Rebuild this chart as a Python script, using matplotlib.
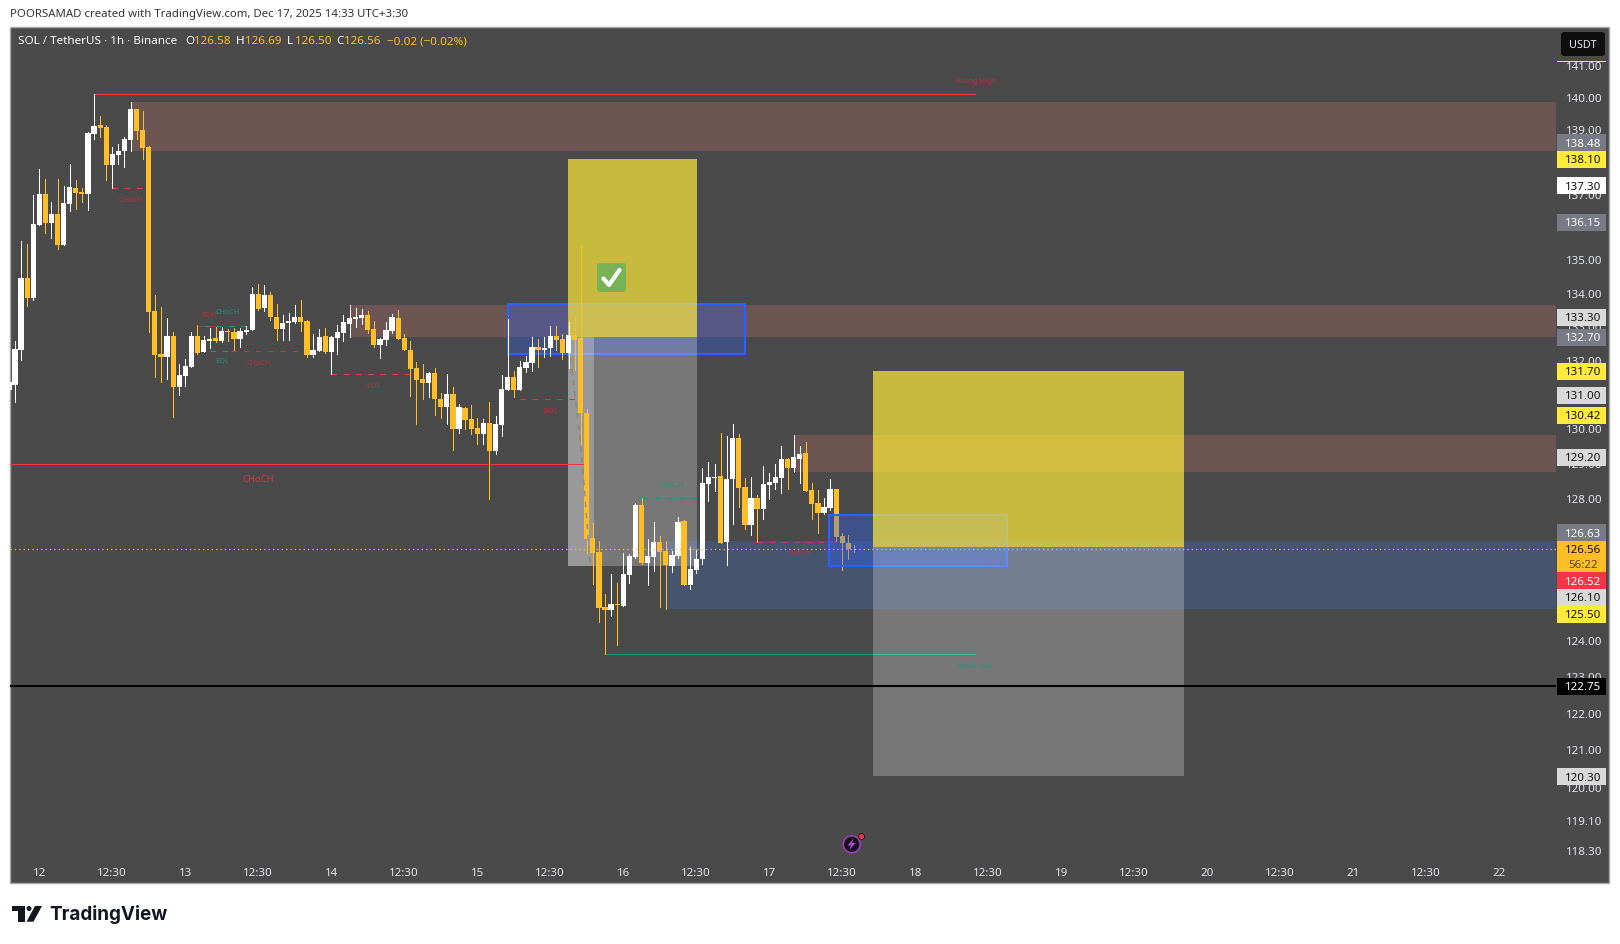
import matplotlib
matplotlib.use('Agg')
import numpy as np
import matplotlib.pyplot as plt
from matplotlib.patches import Rectangle, Polygon, Circle, FancyBboxPatch
from matplotlib.lines import Line2D
from matplotlib.transforms import Affine2D
from matplotlib.ticker import NullLocator

plt.rcParams['font.family'] = ['Noto Sans', 'DejaVu Sans']

# hourly candles, first one is 5 bars before the "12" label
first_bar = -5
opens = [131.16,131.30,132.33,134.47,133.87,136.08,137.02,136.14,136.41,135.47,
         136.72,137.20,137.08,137.02,138.87,139.15,139.08,137.91,138.21,138.34,
         138.68,139.65,138.99,138.46,133.49,132.22,132.13,132.75,131.25,131.57,
         131.83,132.75,132.27,132.60,132.69,132.60,132.89,132.86,132.66,132.86,
         132.92,133.99,133.57,133.96,133.30,132.95,133.12,133.15,133.31,133.19,
         132.19,132.30,132.75,132.27,132.69,132.83,133.10,133.25,133.28,133.36,
         132.95,132.48,132.63,132.89,133.28,132.69,132.33,131.80,131.48,131.36,
         131.66,130.89,130.66,131.04,130.01,130.63,130.30,130.04,129.87,130.19,
         129.38,130.13,131.16,131.54,131.16,131.80,131.95,132.42,132.33,132.39,
         132.75,132.66,132.25,132.77,132.69,130.48,126.89,126.49,124.94,124.86,
         125.03,124.97,125.84,126.35,127.82,126.18,126.35,126.77,126.52,126.09,
         126.37,127.37,125.56,125.98,126.29,128.43,128.60,128.66,126.77,128.57,
         129.75,128.34,127.26,128.02,127.71,128.40,128.46,128.60,129.14,128.89,
         129.14,129.32,128.25,127.88,127.60,127.74,128.28,126.94,126.75,126.58]
highs = [131.37,132.60,135.59,135.50,136.99,137.79,137.48,136.78,137.48,137.26,
         137.94,137.45,137.20,138.93,140.11,139.43,139.15,138.46,138.56,138.77,
         139.86,139.65,139.58,138.49,133.96,133.60,133.27,132.86,131.92,132.07,
         132.86,133.07,132.75,132.98,133.01,133.01,132.95,132.98,132.98,133.04,
         134.20,134.29,134.26,134.05,133.69,133.36,133.42,133.66,133.81,133.22,
         132.80,132.95,132.98,132.75,133.07,133.36,133.66,133.57,133.54,133.48,
         133.19,132.69,133.16,133.39,133.51,132.80,132.60,131.98,131.92,131.69,
         131.80,131.07,131.63,131.25,130.75,130.66,130.72,130.33,130.30,130.80,
         130.39,131.60,133.25,131.72,132.01,132.16,132.72,132.66,132.72,133.04,
         133.04,132.80,133.16,133.31,135.44,130.60,127.31,126.80,125.31,125.87,
         125.62,126.46,126.43,127.88,128.02,126.86,127.34,126.94,126.80,126.52,
         127.48,127.40,126.63,126.55,128.89,129.06,129.00,129.89,129.81,130.16,
         129.87,128.60,128.63,128.11,128.94,128.74,129.00,129.52,129.17,129.84,
         129.52,129.63,128.46,128.25,128.02,128.57,128.28,127.03,126.97,126.69]
lows = [131.16,130.81,132.02,133.64,133.81,136.08,135.83,135.68,135.35,135.47,
        136.50,136.56,136.78,136.53,138.71,138.77,137.45,137.19,137.94,137.85,
        138.34,138.71,138.09,132.86,131.54,131.39,131.48,130.36,131.01,131.27,
        131.83,132.22,132.27,132.39,132.57,132.57,132.60,132.33,132.42,132.80,
        132.92,133.51,133.48,133.21,132.63,132.63,132.63,133.12,132.89,132.13,
        132.13,132.30,132.25,131.62,132.22,132.60,132.72,133.01,133.10,132.83,
        132.42,132.10,132.48,132.83,132.66,132.33,130.98,130.16,130.89,130.95,
        130.42,130.33,130.16,129.40,129.89,130.01,129.87,129.58,129.58,127.99,
        129.29,129.81,131.16,130.95,131.16,131.69,131.72,131.83,132.13,132.16,
        132.33,132.07,131.80,131.75,129.57,126.46,125.59,124.53,123.64,124.69,
        123.89,124.97,125.62,126.32,126.15,125.56,125.95,124.94,124.89,125.93,
        126.32,125.56,125.45,125.90,126.15,127.94,128.22,126.75,126.12,127.28,
        127.77,127.14,126.97,126.77,127.43,128.00,128.28,128.16,128.28,128.77,
        128.46,128.22,127.43,127.03,127.57,127.68,126.80,125.98,126.29,126.50]
closes = [131.37,132.35,134.47,133.87,136.11,137.02,136.14,136.41,135.47,136.75,
          137.23,137.05,137.02,138.90,139.11,139.05,137.91,138.25,138.34,138.71,
          139.65,138.96,138.43,133.46,132.19,132.13,132.75,131.25,131.60,131.86,
          132.75,132.23,132.63,132.66,132.60,132.89,132.86,132.66,132.89,132.92,
          133.99,133.54,133.96,133.30,132.95,133.12,133.18,133.30,133.16,132.19,
          132.33,132.72,132.27,132.72,132.86,133.16,133.28,133.31,133.36,132.92,
          132.48,132.66,132.92,133.31,132.66,132.33,131.77,131.45,131.36,131.66,
          130.89,130.66,131.04,130.01,130.66,130.27,130.01,129.87,130.19,129.38,
          130.16,131.19,131.54,131.16,131.83,131.98,132.42,132.33,132.39,132.75,
          132.63,132.25,132.77,132.63,130.48,126.86,126.46,124.92,124.86,125.03,
          125.00,125.87,126.37,127.82,126.18,126.37,126.77,126.49,126.12,126.41,
          127.34,125.56,126.01,126.29,128.46,128.63,128.63,126.75,128.57,129.75,
          128.31,127.26,128.02,127.71,128.43,128.48,128.63,129.14,128.89,129.20,
          129.29,128.22,127.85,127.60,127.77,128.28,126.92,126.75,126.58,126.56]

price_ticks = [141,140,139,137,136,135,134,133,132,131,130,129,128,
               124,123,122,121,120,119.1,118.3]
day_ticks = np.arange(0, 241, 12)
day_names = ['12','12:30','13','12:30','14','12:30','15','12:30','16','12:30','17','12:30',
             '18','12:30','19','12:30','20','12:30','21','12:30','22']

# supply / demand zones: start bar, top, bottom
red_start = [15, 51, 124]
red_top = [139.87, 133.67, 129.84]
red_bot = [138.35, 132.70, 128.77]
blue_start, blue_top, blue_bot = 103, 126.80, 124.89
last_price = 126.56
level_black = 122.75

W, H = 1620, 944
BG = '#4a4a4a'
ORANGE = '#fdbe28'
RED = '#f23645'
PINK = '#b8323e'
TEAL = '#1f9480'
BLUE = '#2962ff'
GREY_TAG = '#787b86'
LIGHT_TAG = '#d9d9d9'
YEL_TAG = '#ffeb3b'

pix = Affine2D().scale(1, -1).translate(0, H)

fig = plt.figure(figsize=(W/100, H/100), dpi=100, facecolor='white')
fig.add_artist(Rectangle((10, 27), 1599, 856, transform=pix, fc=BG, ec='#a8a8a8', lw=1, zorder=-1))

ax = fig.add_axes([10/W, 1-883/H, 1546/W, 856/H])
ax.set_facecolor('none')
for s in ax.spines.values():
    s.set_visible(False)
ax.set_yscale('log')
ax.set_ylim(117.47, 142.23)
ax.set_xlim((10-39.3)/6.083, (1556-39.3)/6.083)
x_end = ax.get_xlim()[1]

ax.yaxis.tick_right()
ax.yaxis.set_minor_locator(NullLocator())
ax.set_yticks(price_ticks)
ax.set_yticks([], minor=True)
ax.set_yticklabels(['%.2f' % p for p in price_ticks])
ax.tick_params(axis='y', length=0, pad=7, labelsize=8.3, labelcolor='#e4e6ec')
ax.set_xticks(day_ticks)
ax.set_xticklabels(day_names)
ax.tick_params(axis='x', length=0, pad=-11, labelsize=8.3, labelcolor='#e4e6ec')

# zones
for s0, t, b in zip(red_start, red_top, red_bot):
    ax.fill_between([s0, x_end], b, t, color='#6d5554', lw=0, zorder=1)
ax.fill_between([blue_start, x_end], blue_bot, blue_top, color='#46546e', lw=0, zorder=1)

# first blue box, under the long box
ax.add_patch(Rectangle((77, 132.2), 39, 133.7-132.2, fc=BLUE, alpha=0.3, lw=0, zorder=1.5))
ax.add_patch(Rectangle((77, 132.2), 39, 133.7-132.2, fc='none', ec=BLUE, lw=1.5, zorder=1.6))

# long position left
ax.add_patch(Rectangle((86.9, 132.70), 21.2, 138.10-132.70, fc=YEL_TAG, alpha=0.7, lw=0, zorder=2))
ax.add_patch(Rectangle((86.9, 126.10), 21.2, 132.70-126.10, fc='white', alpha=0.25, lw=0, zorder=2))
ax.add_patch(Rectangle((86.9, 126.10), 4.3, 132.70-126.10, fc='white', alpha=0.25, lw=0, zorder=2))
fig.add_artist(Line2D([570.7, 579, 584, 590], [358, 430, 483, 563], transform=pix, color='#80808a',
                      lw=1, ls=(0, (4, 4)), alpha=0.8, zorder=0.5))

# level lines
ax.plot([9, 153.9], [140.11, 140.11], color=RED, lw=0.72, zorder=2.5)
ax.plot([93, 153.9], [123.64, 123.64], color='#089981', lw=0.72, zorder=2.5)
ax.plot([ax.get_xlim()[0], 90], [129, 129], color=RED, lw=0.72, zorder=2.5)

# dashed structure lines
dash_x0 = [12, 26, 27, 28, 31.5, 48, 79, 99, 118]
dash_x1 = [18, 29, 34, 32, 44, 61.5, 88.7, 108.6, 131]
dash_y = [137.19, 133.03, 133.05, 132.31, 132.29, 131.62, 130.88, 128.02, 126.77]
dash_c = [RED, PINK, TEAL, TEAL, '#c73845', RED, '#c0414c', TEAL, '#d0305f']
for a, b, y, c in zip(dash_x0, dash_x1, dash_y, dash_c):
    ax.plot([a, b], [y, y], color=c, lw=0.8, ls=(0, (5, 6)), zorder=2.5)

# candles
xs = np.arange(len(opens)) + first_bar
o = np.array(opens)
c = np.array(closes)
up = c >= o
cols = np.where(up, 'white', ORANGE)
ax.vlines(xs, lows, highs, colors=cols, lw=0.72, zorder=3, antialiased=False)
ax.bar(xs, np.abs(c-o), bottom=np.minimum(o, c), width=0.86, color=cols, lw=0, zorder=3.1, antialiased=False)

# second blue box sits over the candles
ax.add_patch(Rectangle((129.9, 126.10), 29.2, 127.54-126.10, fc=BLUE, alpha=0.35, lw=0, zorder=4))
ax.add_patch(Rectangle((129.9, 126.10), 29.2, 127.54-126.10, fc='none', ec=BLUE, lw=1.5, zorder=4.1))

# long position right
ax.add_patch(Rectangle((137.1, 126.63), 51.1, 131.70-126.63, fc=YEL_TAG, alpha=0.7, lw=0, zorder=5))
ax.add_patch(Rectangle((137.1, 120.30), 51.1, 126.63-120.30, fc='white', alpha=0.25, lw=0, zorder=5))

ax.axhline(level_black, color='black', lw=1.5, zorder=6)
ax.axhline(last_price, color=ORANGE, lw=0.9, ls=(0, (1, 2.5)), zorder=6)

# pattern labels
small_txt = ['CHoCH','EQH','CHoCH','EQL','CHoCH','BOS','BOS','CHoCH','CHoCH','Strong High','Weak Low']
small_x = [130.7,209,227.3,221.7,258.3,373.7,550.7,671.3,799.3,975.5,975.5]
small_y = [200.7,315.7,312.3,361.7,363.3,386.7,411.7,485.3,553.3,81.7,666.5]
small_c = [PINK,PINK,TEAL,TEAL,PINK,PINK,PINK,TEAL,PINK,PINK,TEAL]
for t, x, y, col in zip(small_txt, small_x, small_y, small_c):
    fig.text(x, y, t, transform=pix, color=col, fontsize=5.2, fontweight='bold', ha='center', va='center', zorder=7)
fig.text(258.5, 480, 'CHoCH', transform=pix, color=RED, alpha=0.8, fontsize=6.8, ha='center', va='center', zorder=7)

# green check box
fig.add_artist(FancyBboxPatch((599, 265), 25, 25, boxstyle='round,pad=2,rounding_size=3', transform=pix,
                              fc='#77b255', ec='none', zorder=7))
fig.add_artist(Line2D([603.5, 609, 619.5], [278.5, 285, 270], transform=pix, color='white', lw=3,
                      solid_capstyle='round', solid_joinstyle='round', zorder=8))

# price tags down the axis
tag_txt = ['138.48','138.10','137.30','136.15','133.30','132.70','131.70','131.00','130.42','129.20',
           '126.63','126.52','126.10','125.50','122.75','120.30']
tag_y = [142.7,159.3,185.7,222.3,317.3,337.3,371.3,395.3,415,457.3,532.7,580.7,597.3,614.3,686.3,776.7]
tag_bg = [GREY_TAG,YEL_TAG,'white',GREY_TAG,LIGHT_TAG,GREY_TAG,YEL_TAG,LIGHT_TAG,YEL_TAG,LIGHT_TAG,
          GREY_TAG,RED,LIGHT_TAG,YEL_TAG,'black',LIGHT_TAG]
tag_fg = ['white','#111','#111','white','#111','white','#111','#111','#111','#111',
          'white','white','#111','#111','white','#111']
for t, y, bgc, fgc in zip(tag_txt, tag_y, tag_bg, tag_fg):
    fig.add_artist(Rectangle((1557, y-8.5), 49, 17, transform=pix, fc=bgc, ec='none', zorder=8))
    fig.text(1583, y, t, transform=pix, color=fgc, fontsize=8.3, ha='center', va='center_baseline', zorder=9)
fig.add_artist(Rectangle((1557, 541), 49, 30.7, transform=pix, fc=ORANGE, ec='none', zorder=8))
fig.add_artist(Rectangle((1557, 60.8), 49, 1, transform=pix, fc=YEL_TAG, ec='none', zorder=8))
fig.text(1583, 549.3, '126.56', transform=pix, color='#111', fontsize=8.3, ha='center', va='center_baseline', zorder=9)
fig.text(1583, 563.5, '56:22', transform=pix, color='#5a4510', fontsize=8.3, ha='center', va='center_baseline', zorder=9)
fig.add_artist(FancyBboxPatch((1563, 34), 40, 20, boxstyle='round,pad=2,rounding_size=3', transform=pix,
                              fc='#0f0f0f', ec='none', zorder=8))
fig.text(1583, 44, 'USDT', transform=pix, color='#e4e6ec', fontsize=7.8, ha='center', va='center_baseline', zorder=9)

# header and legend
fig.text(10, 15, 'POORSAMAD created with TradingView.com, Dec 17, 2025 14:33 UTC+3:30', transform=pix,
         color='#333333', fontsize=8.2, va='center')
fig.text(17.7, 42, 'SOL / TetherUS · 1h · Binance', transform=pix, color='white', fontsize=8.4, va='center')
leg_txt = ['O','126.58','H','126.69','L','126.50','C','126.56','−0.02 (−0.02%)']
leg_x = [185,194,236.3,245,287,294.7,336,344.3,386.7]
leg_c = ['white',ORANGE,'white',ORANGE,'white',ORANGE,'white',ORANGE,ORANGE]
for t, x, col in zip(leg_txt, leg_x, leg_c):
    fig.text(x, 42, t, transform=pix, color=col, fontsize=8.4, va='center')

# news icon
fig.add_artist(Circle((851.7, 844.3), 8.5, transform=pix, fc='#17121c', ec='#a23bc0', lw=1.2, zorder=7))
fig.add_artist(Polygon([(853.5, 838.5), (847.5, 845.5), (851, 845.5), (849.5, 850), (855.5, 843), (852, 843)],
                       closed=True, transform=pix, fc='#b04ad0', ec='none', zorder=8))
fig.add_artist(Circle((861.5, 836.5), 3, transform=pix, fc=RED, ec='#17121c', lw=0.6, zorder=8))

# footer logo
fig.add_artist(Polygon([(12, 906), (25, 906), (25, 921.7), (18, 921.7), (18, 911), (12, 911)], closed=True,
                       transform=pix, fc='#131722', ec='none'))
fig.add_artist(Circle((29, 908.5), 2.5, transform=pix, fc='#131722', ec='none'))
fig.add_artist(Polygon([(35, 906), (42, 906), (33.5, 921.7), (26.5, 921.7)], closed=True, transform=pix,
                       fc='#131722', ec='none'))
fig.text(49, 914.5, 'TradingView', transform=pix, color='#131722', fontsize=13.6, fontweight='bold',
         family=['Inter', 'DejaVu Sans'], va='center')

fig.savefig('out.png', dpi=100)
